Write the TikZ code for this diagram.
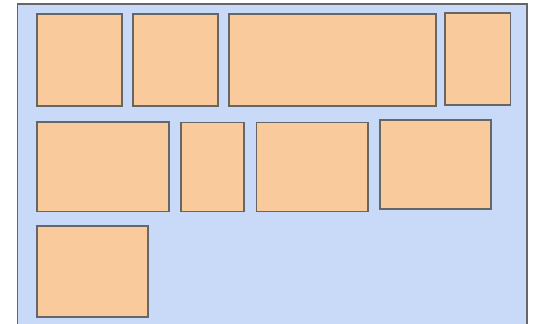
\documentclass[tikz,border=0pt]{standalone}
\begin{document}
\begin{tikzpicture}[x=1pt,y=-1pt,
  frame/.style={draw=black!60, fill={rgb,255:red,201;green,218;blue,248}, line width=1.8pt},
  cell/.style={draw=black!60, fill={rgb,255:red,249;green,203;blue,156}, line width=1.8pt}]
\useasboundingbox (0,0) rectangle (533,324);
\begin{scope}
\clip (0,0) rectangle (533,324);
\path[frame] (17.5,4) rectangle (527,340);
\end{scope}
\path[cell] (37,14) rectangle (122,106);
\path[cell] (133,14) rectangle (218,106);
\path[cell] (229,14) rectangle (436,106);
\path[cell] (445,13) rectangle (510.5,105);
\path[cell] (37,122) rectangle (169,211.5);
\path[cell] (181,122.5) rectangle (244,211.5);
\path[cell] (256.5,122.5) rectangle (368,211.5);
\path[cell] (380,120) rectangle (491,209);
\path[cell] (37,226) rectangle (148,317);
\end{tikzpicture}
\end{document}
